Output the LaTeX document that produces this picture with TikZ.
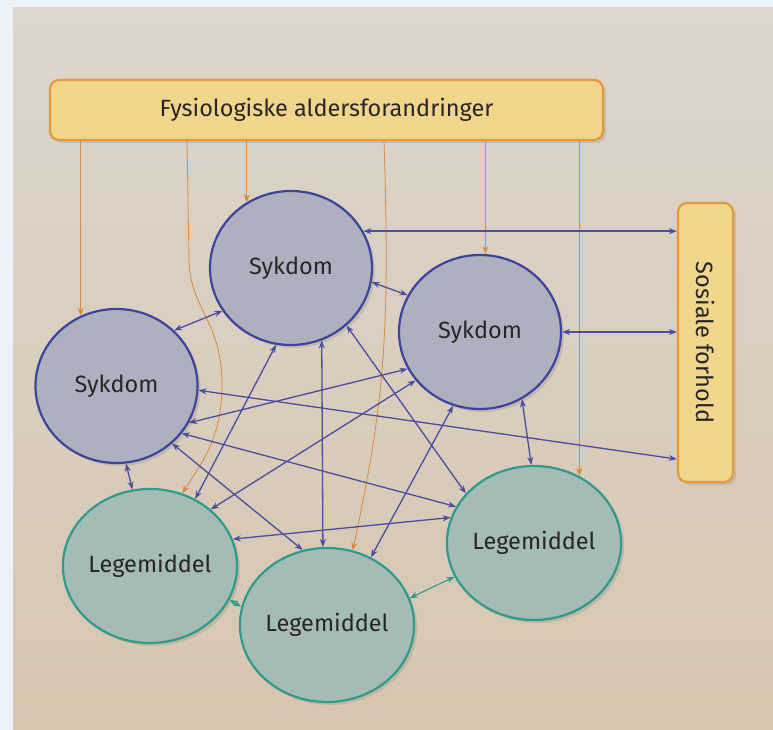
\documentclass[tikz,border=0pt]{standalone}
\usepackage{fontspec}
\setmainfont{Fira Sans}
\usepackage{xcolor}
\usetikzlibrary{arrows.meta,shapes.geometric,shadows}
\definecolor{page-grey}{HTML}{DCD6CD}
\definecolor{page-tan}{HTML}{D7C6B0}
\definecolor{edge-white}{HTML}{EBF2FA}
\definecolor{disease-fill}{HTML}{AEB0C0}
\definecolor{disease-blue}{HTML}{3C449C}
\definecolor{drug-fill}{HTML}{A5BBB5}
\definecolor{drug-teal}{HTML}{2F9C8B}
\definecolor{box-yellow}{HTML}{F1D68C}
\definecolor{box-orange}{HTML}{E39A3A}
\definecolor{link-blue}{HTML}{4A4E9C}
\definecolor{link-orange}{HTML}{D98A40}

\begin{document}
\begin{tikzpicture}[x=1pt, y=1pt,
    every node/.style={font=\fontsize{23.5}{26}\selectfont, text=black!85},
    soft shadow/.style={drop shadow={opacity=0.25, shadow xshift=3pt, shadow yshift=-3pt}},
    disease/.style={ellipse, draw=disease-blue, line width=2.2pt, fill=disease-fill,
      minimum width=162pt, minimum height=154pt, inner sep=0pt, soft shadow},
    drug/.style={ellipse, draw=drug-teal, line width=2.2pt, fill=drug-fill,
      minimum width=162pt, minimum height=154pt, inner sep=0pt, soft shadow},
    factor/.style={rectangle, rounded corners=9pt, draw=box-orange, line width=2.2pt,
      fill=box-yellow, inner sep=0pt, soft shadow},
    link/.style={<->, line width=1.3pt, draw=link-blue},
    druglink/.style={<->, line width=1.1pt, draw=drug-teal},
    agelink/.style={->, line width=0.8pt, draw=link-orange},
    >={Stealth[length=8pt, width=6pt]}]
  % page
  \fill[edge-white] (0,0) rectangle (773,730);
  \shade[top color=page-grey, bottom color=page-tan] (13,0) rectangle (773,722);
  \useasboundingbox (0,0) rectangle (773,730);

  % factors
  \node[factor, minimum width=553pt, minimum height=60pt]
    (aging) at (326.5,620) {Fysiologiske aldersforandringer};
  \node[factor, minimum width=55pt, minimum height=279pt]
    (social) at (705.5,387.5) {\rotatebox{-90}{Sosiale forhold}};

  % diseases and drugs
  \node[disease] (dis1) at (291,462) {Sykdom};
  \node[disease] (dis2) at (480,398) {Sykdom};
  \node[disease] (dis3) at (116.5,344) {Sykdom};
  \node[drug] (drug1) at (150,164) {Legemiddel};
  \node[drug] (drug2) at (327,105) {Legemiddel};
  \node[drug] (drug3) at (534,187) {Legemiddel};

  % ageing acts on everything
  \draw[agelink] (dis3.117 |- aging.south) -- (dis3.117);
  \draw[agelink] (dis1.124 |- aging.south) -- (dis1.124);
  \draw[agelink] (dis2.86 |- aging.south) -- (dis2.86);
  \draw[agelink] (drug3.56 |- aging.south) -- (drug3.56);
  \draw[agelink] ([xshift=-139.5pt]aging.south) -- (189,470)
    .. controls (190,420) and (222,410) .. (222,345)
    .. controls (222,290) and (200,265) .. (drug1.66);
  \draw[agelink] ([xshift=57.5pt]aging.south)
    .. controls (390,400) and (385,330) .. (drug2.71);

  % social links
  \draw[link] (dis1.27) -- (dis1.27 -| social.west);
  \draw[link] (dis2.east) -- (dis2.east -| social.west);
  \draw[link] (dis3.-3) -- ([yshift=24pt]social.south west);

  % disease -- disease
  \draw[link] (dis1.-10) -- (dis2.153);
  \draw[link] (dis1.212) -- (dis3.44);
  \draw[link] (dis2.207) -- (dis3.-27);

  % disease -- drug
  \draw[link] (dis3.-83) -- (drug1.103);
  \draw[link] (dis1.-101) -- (drug1.56);
  \draw[link] (dis2.217) -- (drug1.43);
  \draw[link] (dis1.-67) -- (drug2.93);
  \draw[link] (dis3.-46) -- (drug2.108);
  \draw[link] (dis2.250) -- (drug2.57);
  \draw[link] (dis1.-46) -- (drug3.144);
  \draw[link] (dis3.-36) -- (drug3.155);
  \draw[link] (dis2.-58) -- (drug3.92);

  % drug -- drug
  \draw[link] (drug1.18) -- (drug3.163);
  \draw[druglink] (drug1.-23) -- (drug2.168);
  \draw[druglink] (drug2.18) -- (drug3.203);
\end{tikzpicture}
\end{document}
